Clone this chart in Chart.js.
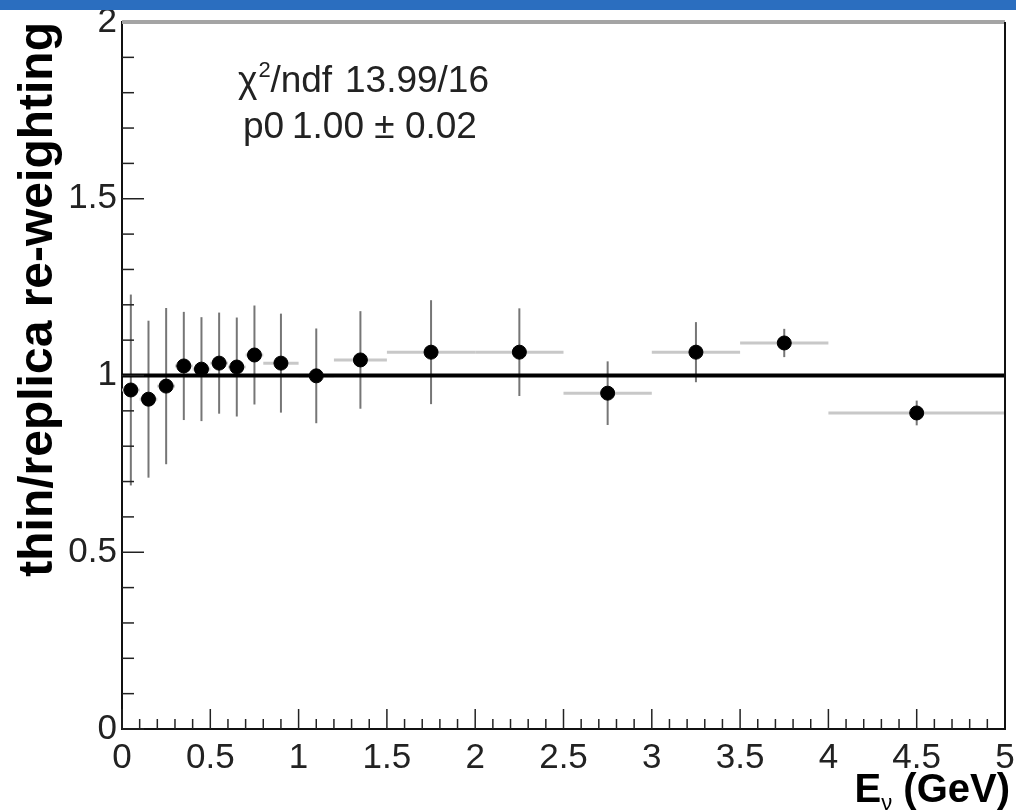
<!DOCTYPE html>
<html>
<head>
<meta charset="utf-8">
<title>thin/replica re-weighting</title>
<script src="https://cdn.jsdelivr.net/npm/chart.js@4.4.1/dist/chart.umd.min.js"></script>
<style>
  html, body { margin: 0; padding: 0; background: #fff; }
  #wrap { position: relative; width: 1016px; height: 811px; overflow: hidden; }
  #topbar { position: absolute; left: 0; top: 0; width: 1016px; height: 10px; background: #2b6ebf; }
  canvas { position: absolute; left: 0; top: 0; }
</style>
</head>
<body>
<div id="wrap">
  <canvas id="chartRatio" width="1016" height="811"></canvas>
  <div id="topbar"></div>
</div>
<script>
// bins in E_nu (GeV) and the thin/replica ratio per bin
const binLow   = [0.0, 0.1, 0.2, 0.3, 0.4, 0.5, 0.6, 0.7, 0.8, 1.0, 1.2, 1.5, 2.0, 2.5, 3.0, 3.5, 4.0];
const binHigh  = [0.1, 0.2, 0.3, 0.4, 0.5, 0.6, 0.7, 0.8, 1.0, 1.2, 1.5, 2.0, 2.5, 3.0, 3.5, 4.0, 5.0];
const ratio    = [0.959, 0.933, 0.970, 1.027, 1.018, 1.035, 1.024, 1.058, 1.035, 0.999, 1.044, 1.066, 1.066, 0.950, 1.066, 1.092, 0.894];
const ratioErr = [0.270, 0.222, 0.221, 0.153, 0.147, 0.143, 0.140, 0.140, 0.140, 0.134, 0.138, 0.147, 0.124, 0.090, 0.085, 0.040, 0.035];

// constant fit p0
const fitRange = [0, 5];
const fitValue = 1.0;

const xTickLabels = ['0', '0.5', '1', '1.5', '2', '2.5', '3', '3.5', '4', '4.5', '5'];
const yTickLabels = ['0', '0.5', '1', '1.5', '2'];

const statNames  = ['χ', 'p0'];
const statValues = ['13.99/16', '1.00 ± 0.02'];

const FONT = '"Liberation Sans", Arial, Helvetica, sans-serif';

const rootStylePlugin = {
  id: 'rootStyle',
  beforeDatasetsDraw(chart) {
    const { ctx, scales: { x, y } } = chart;
    ctx.save();
    // bin width bars
    ctx.lineWidth = 3;
    ctx.strokeStyle = '#c8c8c8';
    ratio.forEach((v, i) => {
      const py = y.getPixelForValue(v);
      ctx.beginPath();
      ctx.moveTo(x.getPixelForValue(binLow[i]), py);
      ctx.lineTo(x.getPixelForValue(binHigh[i]), py);
      ctx.stroke();
    });
    // statistical error bars
    ctx.lineWidth = 2;
    ctx.strokeStyle = '#767676';
    ratio.forEach((v, i) => {
      const px = x.getPixelForValue((binLow[i] + binHigh[i]) / 2);
      ctx.beginPath();
      ctx.moveTo(px, y.getPixelForValue(v + ratioErr[i]));
      ctx.lineTo(px, y.getPixelForValue(v - ratioErr[i]));
      ctx.stroke();
    });
    ctx.restore();
  },
  afterDraw(chart) {
    const { ctx, chartArea: a, scales: { x, y } } = chart;
    ctx.save();

    // inward ticks, ROOT style
    ctx.strokeStyle = '#222';
    ctx.lineWidth = 1.5;
    for (let i = 0; i <= 50; i++) {
      const px = x.getPixelForValue(i / 10);
      const len = i % 5 === 0 ? 20 : 10;
      ctx.beginPath();
      ctx.moveTo(px, a.bottom);
      ctx.lineTo(px, a.bottom - len);
      ctx.stroke();
    }
    for (let i = 0; i <= 20; i++) {
      const py = y.getPixelForValue(i / 10);
      const len = i % 5 === 0 ? 22 : 12;
      ctx.beginPath();
      ctx.moveTo(a.left, py);
      ctx.lineTo(a.left + len, py);
      ctx.stroke();
    }

    // frame: grey top, black right
    ctx.lineWidth = 4;
    ctx.strokeStyle = '#a4a4a4';
    ctx.beginPath();
    ctx.moveTo(a.left, a.top);
    ctx.lineTo(a.right, a.top);
    ctx.stroke();
    ctx.lineWidth = 2;
    ctx.strokeStyle = '#111';
    ctx.beginPath();
    ctx.moveTo(a.right, a.top);
    ctx.lineTo(a.right, a.bottom);
    ctx.stroke();

    // fit statistics
    ctx.fillStyle = '#222';
    ctx.textBaseline = 'alphabetic';
    ctx.font = '37px ' + FONT;
    ctx.fillText(statNames[0], 238, 92);
    const cx = 238 + ctx.measureText(statNames[0]).width;
    ctx.font = '22px ' + FONT;
    ctx.fillText('2', cx + 1, 77);
    ctx.font = '37px ' + FONT;
    ctx.fillText('/ndf', cx + 13, 92);
    ctx.fillText(statValues[0], 345, 92);
    ctx.fillText(statNames[1], 243, 138);
    ctx.fillText(statValues[1], 292, 138);

    // x axis title with subscript nu
    ctx.font = 'bold 40px ' + FONT;
    const tail = ' (GeV)';
    const tailW = ctx.measureText(tail).width;
    const eW = ctx.measureText('E').width;
    ctx.font = '22px ' + FONT;
    const nuW = ctx.measureText('ν').width;
    const endX = 1010;
    const startX = endX - tailW - nuW - eW;
    ctx.fillStyle = '#000';
    ctx.font = 'bold 40px ' + FONT;
    ctx.fillText('E', startX, 802);
    ctx.fillText(tail, startX + eW + nuW, 802);
    ctx.font = '22px ' + FONT;
    ctx.fillText('ν', startX + eW, 810);

    ctx.restore();
  }
};

new Chart(document.getElementById('chartRatio'), {
  type: 'scatter',
  data: {
    datasets: [
      {
        type: 'line',
        label: 'fit',
        data: fitRange.map(v => ({ x: v, y: fitValue })),
        borderColor: '#000',
        borderWidth: 4,
        pointRadius: 0,
        order: 2
      },
      {
        label: 'thin/replica',
        data: ratio.map((v, i) => ({ x: (binLow[i] + binHigh[i]) / 2, y: v })),
        backgroundColor: '#000',
        borderColor: '#000',
        pointRadius: 7,
        order: 1
      }
    ]
  },
  options: {
    responsive: false,
    animation: false,
    layout: { padding: { left: 0, top: 22, right: 11, bottom: 0 } },
    plugins: { legend: { display: false }, tooltip: { enabled: false } },
    scales: {
      x: {
        type: 'linear',
        min: 0,
        max: 5,
        afterFit: s => { s.height = 82; s.paddingLeft = 0; s.paddingRight = 0; },
        grid: { display: false, drawTicks: false },
        border: { color: '#111', width: 2 },
        ticks: {
          stepSize: 0.5,
          padding: 8,
          color: '#222',
          font: { family: FONT, size: 35 },
          maxRotation: 0,
          callback: (v, i) => xTickLabels[i]
        }
      },
      y: {
        type: 'linear',
        min: 0,
        max: 2,
        afterFit: s => { s.width = 122; s.paddingTop = 0; s.paddingBottom = 0; },
        grid: { display: false, drawTicks: false },
        border: { color: '#111', width: 2 },
        ticks: {
          stepSize: 0.5,
          padding: 5,
          color: '#222',
          font: { family: FONT, size: 35 },
          callback: (v, i) => yTickLabels[i]
        },
        title: {
          display: true,
          text: 'thin/replica re-weighting',
          align: 'end',
          color: '#000',
          font: { family: FONT, size: 48, weight: 'bold' },
          padding: { top: 10, bottom: 0 }
        }
      }
    }
  },
  plugins: [rootStylePlugin]
});
</script>
</body>
</html>
